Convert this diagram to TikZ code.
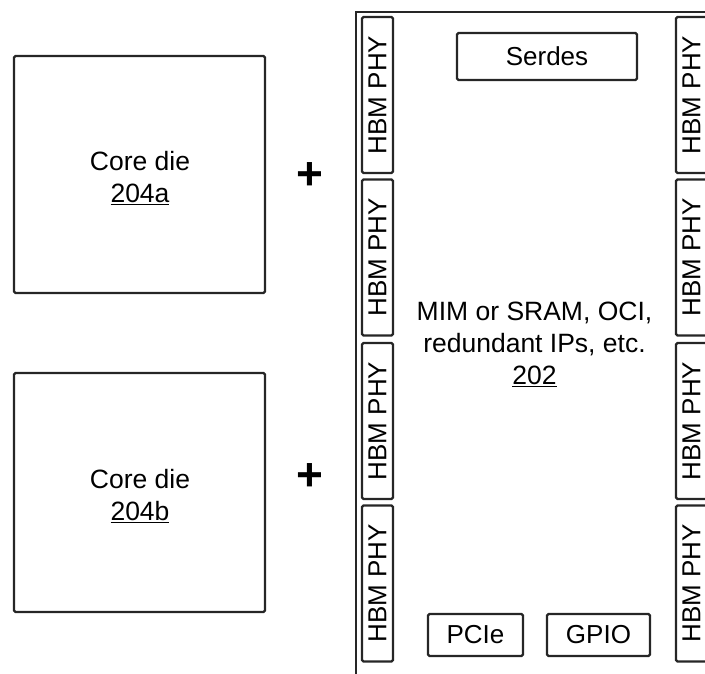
\documentclass[tikz,border=0pt]{standalone}
\usepackage{fontspec}
\setmainfont{Liberation Sans}
\usepackage{xcolor}
\usetikzlibrary{positioning}

\tikzset{
  die/.style={draw=black!85, line width=2.4pt, rounded corners=1.5pt, inner sep=0pt,
    align=center, font=\fontsize{26}{32}\selectfont},
  phy/.style={die, rotate=90, minimum width=156pt, minimum height=31pt},
  ipbox/.style={die, minimum height=45pt}
}

\begin{document}
\begin{tikzpicture}[x=1pt, y=-1pt]
\useasboundingbox (0,0) rectangle (705,673);
\clip (0,0) rectangle (705,673);
% core dies
\node[die, minimum width=251pt, minimum height=237pt] (corea) at (139.5,174.5) {};
\node (txta) at (140,178) [align=center, font=\fontsize{26.5}{32}\selectfont] {Core die\\\underline{204a}};
\node[die, minimum width=251pt, minimum height=239pt] (coreb) at (139.5,492.5) {};
\node (txtb) at (140,496) [align=center, font=\fontsize{26.5}{32}\selectfont] {Core die\\\underline{204b}};
\node[inner sep=0pt, font=\fontsize{46}{46}\bfseries\selectfont] (plusa) at (310,176) {+};
\node[inner sep=0pt, font=\fontsize{46}{46}\bfseries\selectfont] (plusb) at (310,477) {+};
% base die
\draw[black!85, line width=2.6pt] (356,675) -- (356,12) -- (714,12) -- (714,675) -- cycle;
\foreach \y [count=\i] in {95,257.5,421,583.5} {
  \node[phy] (phyl\i) at (377.5,\y) {HBM PHY};
  \node[phy] (phyr\i) at (691.5,\y) {HBM PHY};
}
\node[ipbox, minimum width=180pt, minimum height=47pt] (serdes) at (547,56.5) {Serdes};
\node[ipbox, minimum width=95pt, minimum height=42pt] (pcie) at (475.5,635) {PCIe};
\node[ipbox, minimum width=103pt, minimum height=42pt] (gpio) at (598.5,635) {GPIO};
\node (base) at (534.5,344) [align=center, font=\fontsize{26.5}{32}\selectfont]
  {MIM or SRAM, OCI,\\redundant IPs, etc.\\\underline{202}};
\end{tikzpicture}
\end{document}
